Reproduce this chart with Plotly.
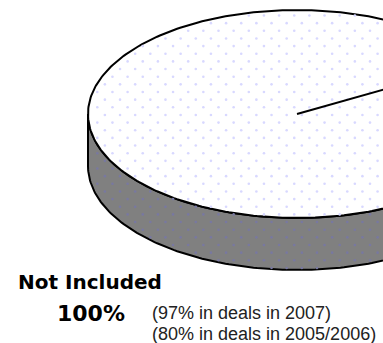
import numpy as np
import plotly.graph_objects as go

categories = ["Not Included"]
values = [100]
notes = ["(97% in deals in 2007)", "(80% in deals in 2005/2006)"]

W, H = 383, 343
cx, cy, rx, ry, depth = 297, 114, 209, 104, 52
DOT_X, DOT_Y = 15.15, 7.65
start_deg = 15.7  # direction of the slice edge, on screen

t = np.linspace(0, 2 * np.pi, 361)
ex, ey = cx + rx * np.cos(t), cy + ry * np.sin(t)

tb = np.linspace(0, np.pi, 181)
side_x = np.r_[cx + rx * np.cos(tb), cx + rx * np.cos(tb[::-1])]
side_y = np.r_[cy + depth + ry * np.sin(tb), cy + ry * np.sin(tb[::-1])]
side_x = np.r_[side_x, side_x[0]]
side_y = np.r_[side_y, side_y[0]]

fig = go.Figure()
fig.add_trace(go.Scatter(x=side_x, y=side_y, mode="lines", fill="toself",
                         fillcolor="#808080", line=dict(color="black", width=2),
                         hoverinfo="skip"))
fig.add_trace(go.Scatter(x=ex, y=ey, mode="lines", fill="toself",
                         fillcolor="white", line=dict(color="black", width=2),
                         hoverinfo="skip"))

# dot pattern inside the pie
px, py, pc = [], [], []
for i, y in enumerate(np.arange(0.2, 275, DOT_Y)):
    off = 0 if i % 2 == 0 else DOT_X / 2
    for x in np.arange(6.4 + off - DOT_X, W + 5, DOT_X):
        top = ((x - cx) / rx) ** 2 + ((y - cy) / ry) ** 2 < 0.98
        bot = ((x - cx) / rx) ** 2 + ((y - cy - depth) / ry) ** 2 < 0.98
        wall = abs(x - cx) < rx - 2 and cy < y < cy + depth
        on_top = ((x - cx) / rx) ** 2 + ((y - cy) / ry) ** 2 < 1
        edge = abs(((x - cx) / rx) ** 2 + ((y - cy) / ry) ** 2 - 1) < 0.02
        if (top or bot or wall) and not edge:
            px.append(x)
            py.append(y)
            pc.append("#d8d8ff" if on_top else "#7878a0")
fig.add_trace(go.Scatter(x=px, y=py, mode="markers", hoverinfo="skip",
                         marker=dict(size=2.6, line=dict(width=0), color=pc)))

# slice edge
a = np.deg2rad(start_deg)
fig.add_trace(go.Scatter(x=[cx, cx + 0.6 * rx * np.cos(a)],
                         y=[cy, cy - 0.6 * rx * np.sin(a)],
                         mode="lines", line=dict(color="black", width=2),
                         hoverinfo="skip"))

fig.add_annotation(x=16, y=282, text=f"<b>{categories[0]}</b>", showarrow=False,
                   xanchor="left", yanchor="middle",
                   font=dict(family="DejaVu Sans", size=20, color="black"))
fig.add_annotation(x=55, y=313, text=f"<b>{values[0]}%</b>", showarrow=False,
                   xanchor="left", yanchor="middle",
                   font=dict(family="DejaVu Sans", size=22, color="black"))
for y, s in zip([313, 334], notes):
    fig.add_annotation(x=150, y=y, text=s, showarrow=False, xanchor="left",
                       yanchor="middle",
                       font=dict(family="Liberation Sans", size=18, color="#222222"))

fig.update_layout(width=W, height=H, margin=dict(l=0, r=0, t=0, b=0),
                  paper_bgcolor="white", plot_bgcolor="white", showlegend=False,
                  xaxis=dict(range=[0, W], visible=False, fixedrange=True),
                  yaxis=dict(range=[H, 0], visible=False, fixedrange=True))
fig.write_html("out.html", config=dict(displayModeBar=False),
               post_script="document.body.style.margin='0';document.body.style.overflow='hidden';")
